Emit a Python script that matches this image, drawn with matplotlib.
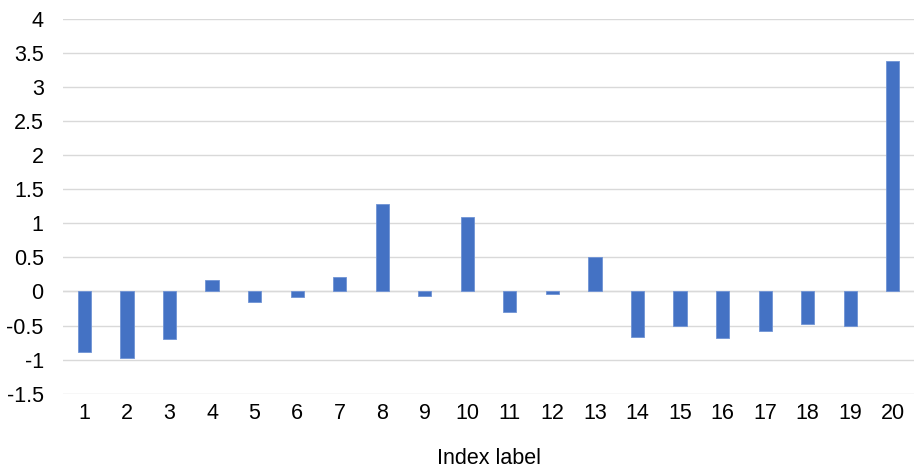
import matplotlib
matplotlib.use("Agg")
import matplotlib.pyplot as plt
from matplotlib.ticker import MultipleLocator, FuncFormatter

# index labels and values of the series
labels = [str(i) for i in range(1, 21)]
values = [-0.886, -0.974, -0.69, 0.176, -0.16, -0.088, 0.215, 1.28, -0.073, 1.10,
          -0.30, -0.044, 0.51, -0.67, -0.51, -0.685, -0.587, -0.475, -0.50, 3.377]

plt.rcParams['font.family'] = ['Liberation Sans', 'DejaVu Sans']

fig = plt.figure(figsize=(9.15, 4.68), dpi=100)
ax = fig.add_axes([0.069, 0.1588, 0.930, 0.8006])

x = list(range(len(labels)))
ax.bar(x, values, width=0.31, color='#4472C4', edgecolor='#6f93d4', linewidth=0.6, zorder=3)

ax.set_xlim(-0.5, len(labels) - 0.5)
ax.set_ylim(-1.5, 4)
ax.yaxis.set_major_locator(MultipleLocator(0.5))
ax.yaxis.set_major_formatter(FuncFormatter(lambda v, p: f"{v:g}"))
ax.set_xticks(x)
ax.set_xticklabels(labels)

ax.grid(axis='y', color='#d9d9d9', linewidth=1.0, zorder=0)
ax.axhline(0, color='#d9d9d9', linewidth=1.0, zorder=1)
for s in ax.spines.values():
    s.set_visible(False)
ax.tick_params(axis='both', length=0, labelsize=15.5, colors='#000000')
ax.tick_params(axis='y', pad=14)
ax.tick_params(axis='x', pad=7)

ax.set_xlabel('Index label', fontsize=15.5, labelpad=17)

fig.savefig('out.png', dpi=100, facecolor='white')
